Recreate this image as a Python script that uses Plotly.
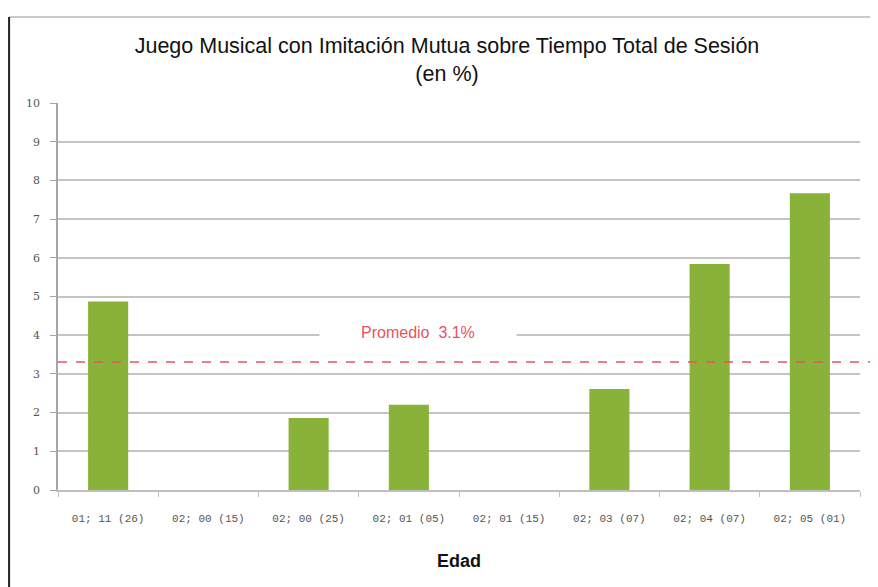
import plotly.graph_objects as go

categories = ["01; 11 (26)", "02; 00 (15)", "02; 00 (25)", "02; 01 (05)",
              "02; 01 (15)", "02; 03 (07)", "02; 04 (07)", "02; 05 (01)"]
values = [4.87, 0, 1.86, 2.2, 0, 2.61, 5.84, 7.67]
promedio_line = 3.31
promedio_label = "Promedio  3.1%"
y_ticks = list(range(0, 11))

fig = go.Figure()
fig.add_trace(go.Bar(
    x=categories, y=values,
    marker=dict(color="#89b238", line=dict(width=0)),
    hoverinfo="x+y",
))

fig.add_shape(type="line", xref="paper", yref="y", x0=0, x1=1.03,
              y0=promedio_line, y1=promedio_line,
              line=dict(color="#e8535f", width=1.5, dash="dash"))
pad = "&nbsp;" * 9
fig.add_annotation(xref="paper", yref="y", x=0.449, y=4.07,
                   text=pad + promedio_label + pad, showarrow=False,
                   font=dict(family="Liberation Sans", size=16, color="#e8535f"),
                   bgcolor="white", borderpad=1)

# outer frame
fig.add_shape(type="line", xref="paper", yref="paper",
              x0=-0.061, x1=1.05, y0=1.222, y1=1.222,
              line=dict(color="#b8b8b8", width=1.5))
fig.add_shape(type="line", xref="paper", yref="paper",
              x0=-0.061, x1=-0.061, y0=-0.3, y1=1.222,
              line=dict(color="#222222", width=2))

fig.update_layout(
    width=878, height=587,
    margin=dict(l=50, r=26, t=95, b=105),
    paper_bgcolor="white", plot_bgcolor="white",
    showlegend=False,
    bargap=0.6,
    title=dict(text="Juego Musical con Imitación Mutua sobre Tiempo Total de Sesión<br>(en %)",
               x=0.5, xanchor="center", y=0.924, yanchor="top",
               font=dict(family="Liberation Sans", size=21.5, color="#111111")),
    xaxis=dict(
        title=dict(text="<b>Edad</b>", font=dict(family="Liberation Sans", size=18, color="#111111"), standoff=30),
        tickfont=dict(family="Liberation Mono", size=11, color="#555555"),
        ticklabelstandoff=17,
        showline=True, linecolor="#bfbfbf", linewidth=1.5,
        ticks="outside", ticklen=5, tickcolor="#bfbfbf", tickson="boundaries",
        showgrid=False,
    ),
    yaxis=dict(
        range=[0, 10], tickvals=y_ticks,
        tickfont=dict(family="DejaVu Serif", size=11, color="#555555"),
        ticklabelstandoff=8,
        showline=True, linecolor="#a6a6a6", linewidth=1.5,
        ticks="outside", ticklen=6, tickcolor="#a6a6a6",
        showgrid=True, gridcolor="#c4c4c4", gridwidth=1.5,
        zeroline=False,
    ),
)

fig.write_html("out.html")
